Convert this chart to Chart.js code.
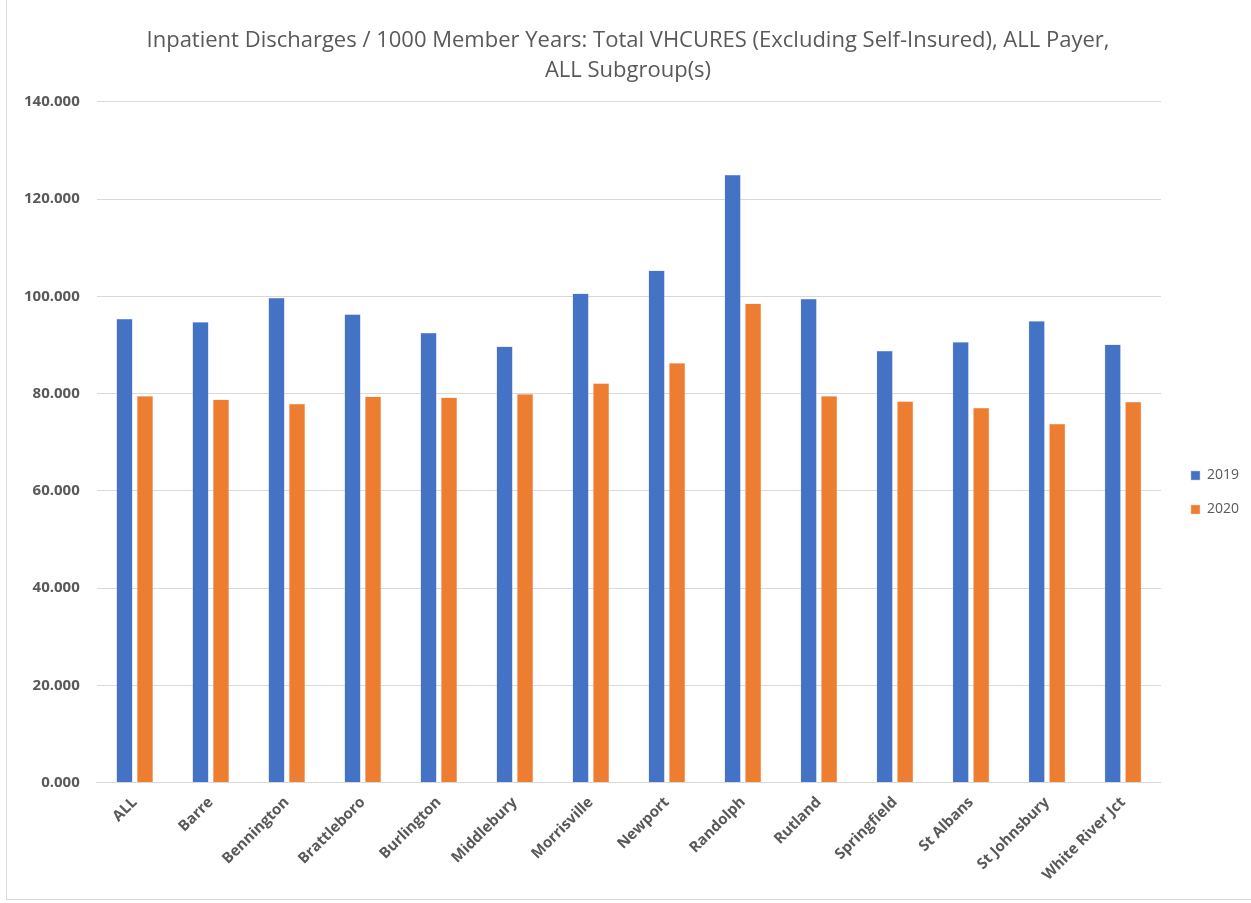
<!DOCTYPE html>
<html>
<head>
<meta charset="utf-8">
<script src="https://cdn.jsdelivr.net/npm/chart.js@4/dist/chart.umd.min.js"></script>
<style>
  html, body { margin: 0; padding: 0; background: #fff; }
  #wrap { position: absolute; left: 6px; top: 0; width: 1245px; height: 900px; border-left: 1px solid #d9d9d9; border-bottom: 1px solid #d9d9d9; box-sizing: border-box; }
</style>
</head>
<body>
<div id="wrap"><canvas id="myChart"></canvas></div>
<script>
const categories = ['ALL', 'Barre', 'Bennington', 'Brattleboro', 'Burlington', 'Middlebury', 'Morrisville',
    'Newport', 'Randolph', 'Rutland', 'Springfield', 'St Albans', 'St Johnsbury', 'White River Jct'];
const values2019 = [95.4, 94.7, 99.7, 96.3, 92.5, 89.7, 100.6, 105.3, 125.0, 99.5, 88.8, 90.6, 94.9, 90.1];
const values2020 = [79.5, 78.8, 77.9, 79.4, 79.2, 79.9, 82.1, 86.3, 98.5, 79.5, 78.4, 77.1, 73.8, 78.3];
const seriesNames = ['2019', '2020'];
const titleText = ['Inpatient Discharges / 1000 Member Years: Total VHCURES (Excluding Self-Insured), ALL Payer,', 'ALL Subgroup(s)'];

const font = '"Open Sans", "Noto Sans", sans-serif';
const grey = '#595959';

const data = {
    labels: categories,
    datasets: [{
        label: seriesNames[0],
        data: values2019,
        backgroundColor: '#4472c4',
        borderColor: '#b4c7e7',
        borderWidth: 0.5
    }, {
        label: seriesNames[1],
        data: values2020,
        backgroundColor: '#ed7d31',
        borderColor: '#f8cbad',
        borderWidth: 0.5
    }]
};

const options = {
    responsive: true,
    maintainAspectRatio: false,
    animation: false,
    datasets: {
        bar: { categoryPercentage: 0.54, barPercentage: 0.79 }
    },
    layout: { padding: { left: 0, right: 2, top: 0, bottom: 12 } },
    plugins: {
        title: {
            display: true,
            text: titleText,
            color: grey,
            font: { family: font, size: 22, weight: 'normal', lineHeight: 1.36 },
            padding: { top: 26, bottom: 16 }
        },
        legend: {
            position: 'right',
            title: { display: true, text: ' ', font: { size: 10 }, padding: { top: 43, bottom: 43 } },
            labels: {
                boxWidth: 9,
                boxHeight: 9,
                color: grey,
                padding: 20,
                font: { family: font, size: 14 }
            }
        },
        tooltip: { enabled: false }
    },
    scales: {
        x: {
            grid: { display: false },
            border: { display: true, color: '#d9d9d9', width: 1 },
            ticks: {
                color: grey,
                maxRotation: 45,
                minRotation: 45,
                font: { family: font, size: 15, weight: 'bold' }
            }
        },
        y: {
            min: 0,
            max: 140,
            grid: { color: '#d9d9d9', drawTicks: false },
            border: { display: false },
            ticks: {
                stepSize: 20,
                padding: 17,
                color: grey,
                font: { family: font, size: 15, weight: 'bold' },
                callback: function (v) { return v.toFixed(3); }
            }
        },
        // empty axis on the right, only to keep a gap before the legend
        gap: {
            position: 'right',
            display: true,
            grid: { display: false },
            border: { display: false },
            ticks: { display: false },
            afterFit: function (scale) { scale.width = 10; }
        }
    }
};

const config = {
    type: 'bar',
    data: data,
    options: options
};

window.onload = function () {
    new Chart(document.getElementById('myChart'), config);
};
</script>
</body>
</html>
